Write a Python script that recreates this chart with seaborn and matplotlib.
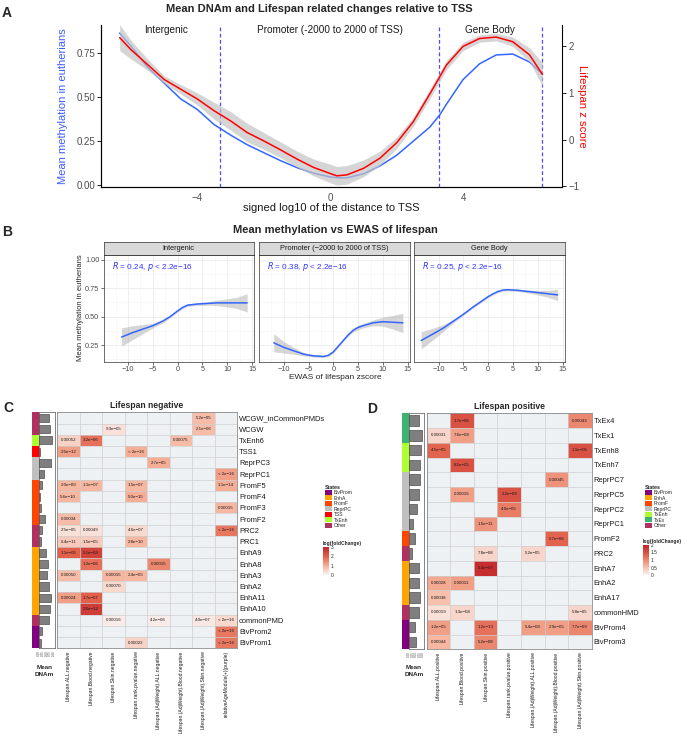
import numpy as np
import pandas as pd
import matplotlib
matplotlib.use("Agg")
import matplotlib.pyplot as plt
import seaborn as sns
from matplotlib.colors import ListedColormap, LinearSegmentedColormap
from matplotlib.patches import Patch

sns.set_style("white")
plt.rcParams["font.family"] = ["Liberation Sans", "DejaVu Sans"]

# ---------------- panel A: methylation / lifespan vs distance to TSS ----------------
tss_x = [-6.34, -6.0, -5.5, -5.0, -4.5, -4.0, -3.5, -3.0, -2.5, -2.0, -1.5, -1.0, -0.5,
         0.0, 0.2, 0.5, 1.0, 1.5, 2.0, 2.5, 3.0, 3.3, 3.5, 4.0, 4.5, 5.0, 5.5, 6.0, 6.39]
tss_meth = [0.864, 0.79, 0.67, 0.58, 0.49, 0.43, 0.345, 0.285, 0.23, 0.185, 0.14, 0.10, 0.068,
            0.047, 0.043, 0.042, 0.065, 0.11, 0.17, 0.25, 0.33, 0.40, 0.46, 0.60, 0.69, 0.74,
            0.745, 0.70, 0.63]
tss_z = [2.19, 1.93, 1.61, 1.29, 1.08, 0.87, 0.62, 0.40, 0.15, -0.03, -0.22, -0.42, -0.60,
         -0.73, -0.78, -0.76, -0.62, -0.40, -0.07, 0.38, 0.98, 1.35, 1.60, 2.00, 2.17, 2.20,
         2.10, 1.82, 1.40]
tss_z_se = [0.28, 0.20, 0.12, 0.08, 0.10, 0.13, 0.18, 0.20, 0.20, 0.18, 0.17, 0.17, 0.18,
            0.20, 0.20, 0.20, 0.18, 0.15, 0.12, 0.10, 0.10, 0.10, 0.10, 0.09, 0.08, 0.08, 0.10,
            0.15, 0.25]
region_bounds = [-3.33, 3.29, 6.39]
region_names = ["Intergenic", "Promoter (-2000 to 2000 of TSS)", "Gene Body"]
region_label_x = [-4.94, 0.0, 4.81]

# ---------------- panel B: methylation vs EWAS z score ----------------
facet_names = ["Intergenic", "Promoter (\u22122000 to 2000 of TSS)", "Gene Body"]
facet_r = ["0.24", "0.38", "0.25"]
inter_x = [-11.3, -9, -7, -5, -3, -1.5, 0, 1, 2, 4, 6, 8, 10, 12, 14]
inter_y = [0.32, 0.36, 0.39, 0.42, 0.46, 0.50, 0.55, 0.58, 0.60, 0.61, 0.615, 0.62, 0.62, 0.62, 0.62]
inter_se = [0.08, 0.06, 0.04, 0.02, 0.015, 0.01, 0.01, 0.01, 0.01, 0.012, 0.015, 0.025, 0.035, 0.05, 0.08]
prom_x = [-12, -10, -8, -6, -4, -2, -1, 0, 1, 2, 3, 4, 5, 6, 8, 10, 12, 14]
prom_y = [0.27, 0.23, 0.20, 0.17, 0.155, 0.15, 0.16, 0.19, 0.24, 0.29, 0.34, 0.38, 0.405, 0.42,
          0.445, 0.455, 0.45, 0.445]
prom_se = [0.08, 0.05, 0.03, 0.015, 0.01, 0.01, 0.01, 0.01, 0.01, 0.01, 0.012, 0.015, 0.02, 0.02,
           0.025, 0.04, 0.06, 0.085]
body_x = [-13.5, -11, -9, -7, -5, -3, -1, 0, 1, 2, 3, 4, 6, 8, 10, 12, 14]
body_y = [0.29, 0.35, 0.40, 0.46, 0.52, 0.585, 0.645, 0.675, 0.70, 0.72, 0.733, 0.735, 0.73,
          0.72, 0.71, 0.70, 0.69]
body_se = [0.075, 0.05, 0.03, 0.015, 0.01, 0.01, 0.01, 0.01, 0.01, 0.01, 0.01, 0.01, 0.01,
           0.012, 0.02, 0.03, 0.05]

# ---------------- panels C / D: enrichment heatmaps ----------------
state_names = ["BivProm", "EnhA", "PromF", "ReprPC", "TSS", "TxEnh", "TxEx", "Other"]
state_colors = ["#800080", "#FFA500", "#FF4500", "#C0C0C0", "#FF0000", "#ADFF2F", "#3CB371", "#B03060"]

neg_rows = ["WCGW_inCommonPMDs", "WCGW", "TxEnh6", "TSS1", "ReprPC3", "ReprPC1", "PromF5", "PromF4",
            "PromF3", "PromF2", "PRC2", "PRC1", "EnhA9", "EnhA8", "EnhA3", "EnhA2", "EnhA11",
            "EnhA10", "commonPMD", "BivProm2", "BivProm1"]
neg_states = ["Other", "Other", "TxEnh", "TSS", "ReprPC", "ReprPC", "PromF", "PromF", "PromF",
              "PromF", "Other", "Other", "EnhA", "EnhA", "EnhA", "EnhA", "EnhA", "EnhA", "Other",
              "BivProm", "BivProm"]
neg_dnam = [0.70, 0.76, 0.89, 0.08, 0.83, 0.30, 0.19, 0.08, 0.15, 0.38, 0.17, 0.15, 0.47, 0.57,
            0.53, 0.68, 0.83, 0.72, 0.64, 0.19, 0.15]
neg_cols = ["Lifespan.ALL.negative", "Lifespan.Blood.negative", "Lifespan.Skin.negative",
            "Lifespan.rank.pvalue.negative", "Lifespan.(AdjWeight).ALL.negative",
            "Lifespan.(AdjWeight).Blood.negative", "Lifespan.(AdjWeight).Skin.negative",
            "relativeAgeModule(+)(purple)"]
# (row, column index, log fold change, p value label)
neg_cells = [
    ("WCGW_inCommonPMDs", 6, 0.8, "5.2e\u221205"),
    ("WCGW", 2, 0.3, "9.3e\u221205"), ("WCGW", 6, 0.8, "2.1e\u221206"),
    ("TxEnh6", 0, 0.5, "0.00052"), ("TxEnh6", 1, 1.8, "3.2e\u221206"), ("TxEnh6", 5, 0.8, "0.00075"),
    ("TSS1", 0, 1.2, "2.5e\u221212"), ("TSS1", 3, 1.0, "< 2e\u221216"),
    ("ReprPC3", 4, 1.0, "2.7e\u221205"),
    ("ReprPC1", 7, 1.2, "< 2e\u221216"),
    ("PromF5", 0, 0.9, "2.0e\u221209"), ("PromF5", 1, 0.9, "1.1e\u221207"),
    ("PromF5", 3, 0.9, "1.5e\u221207"), ("PromF5", 7, 1.0, "1.1e\u221214"),
    ("PromF4", 0, 0.9, "5.6e\u221210"), ("PromF4", 3, 1.0, "5.0e\u221215"),
    ("PromF3", 7, 0.9, "0.00015"),
    ("PromF2", 0, 0.8, "0.00034"),
    ("PRC2", 0, 0.3, "2.5e\u221205"), ("PRC2", 1, 0.3, "0.00049"),
    ("PRC2", 3, 0.4, "4.6e\u221207"), ("PRC2", 7, 1.7, "< 2e\u221216"),
    ("PRC1", 0, 0.6, "6.4e\u221211"), ("PRC1", 1, 0.6, "1.5e\u221205"), ("PRC1", 3, 0.9, "2.8e\u221210"),
    ("EnhA9", 0, 2.0, "1.1e\u221205"), ("EnhA9", 1, 2.5, "5.1e\u221208"),
    ("EnhA8", 1, 1.8, "1.2e\u221206"), ("EnhA8", 4, 1.5, "0.00015"),
    ("EnhA3", 0, 0.8, "0.00050"), ("EnhA3", 2, 0.9, "0.00015"), ("EnhA3", 3, 0.9, "2.4e\u221205"),
    ("EnhA2", 2, 0.4, "0.00070"),
    ("EnhA11", 0, 1.2, "0.00024"), ("EnhA11", 1, 2.0, "1.7e\u221207"),
    ("EnhA10", 1, 2.6, "2.6e\u221212"),
    ("commonPMD", 2, 0.15, "0.00016"), ("commonPMD", 4, 0.15, "4.2e\u221206"),
    ("commonPMD", 6, 0.2, "4.0e\u221207"), ("commonPMD", 7, 0.4, "< 2e\u221216"),
    ("BivProm2", 7, 1.7, "< 2e\u221216"),
    ("BivProm1", 3, 0.5, "0.00022"), ("BivProm1", 7, 1.7, "< 2e\u221216"),
]

pos_rows = ["TxEx4", "TxEx1", "TxEnh8", "TxEnh7", "ReprPC7", "ReprPC5", "ReprPC2", "ReprPC1",
            "PromF2", "PRC2", "EnhA7", "EnhA2", "EnhA17", "commonHMD", "BivProm4", "BivProm3"]
pos_states = ["TxEx", "TxEx", "TxEnh", "TxEnh", "ReprPC", "ReprPC", "ReprPC", "ReprPC", "PromF",
              "Other", "EnhA", "EnhA", "EnhA", "Other", "BivProm", "BivProm"]
pos_dnam = [0.73, 0.95, 0.84, 0.80, 0.77, 0.73, 0.55, 0.27, 0.39, 0.18, 0.73, 0.68, 0.77, 0.73,
            0.43, 0.50]
pos_cols = ["Lifespan.ALL.positive", "Lifespan.Blood.positive", "Lifespan.Skin.positive",
            "Lifespan.rank.pvalue.positive", "Lifespan.(AdjWeight).ALL.positive",
            "Lifespan.(AdjWeight).Blood.positive", "Lifespan.(AdjWeight).Skin.positive"]
pos_cells = [
    ("TxEx4", 1, 1.5, "1.7e\u221206"), ("TxEx4", 6, 1.0, "0.00043"),
    ("TxEx1", 0, 0.3, "0.00031"), ("TxEx1", 1, 0.8, "7.6e\u221208"),
    ("TxEnh8", 0, 1.3, "4.5e\u221205"), ("TxEnh8", 6, 1.5, "1.1e\u221205"),
    ("TxEnh7", 1, 1.5, "8.1e\u221205"),
    ("ReprPC7", 5, 0.9, "0.00045"),
    ("ReprPC5", 1, 0.8, "0.00016"), ("ReprPC5", 3, 1.5, "2.2e\u221209"),
    ("ReprPC2", 3, 1.1, "4.0e\u221205"),
    ("ReprPC1", 2, 0.9, "1.5e\u221211"),
    ("PromF2", 5, 1.3, "5.7e\u221206"),
    ("PRC2", 2, 0.3, "7.8e\u221208"), ("PRC2", 4, 0.3, "5.2e\u221205"),
    ("EnhA7", 2, 1.9, "5.4e\u221207"),
    ("EnhA2", 0, 0.7, "0.00028"), ("EnhA2", 1, 0.8, "0.00011"),
    ("EnhA17", 0, 0.5, "0.00038"),
    ("commonHMD", 0, 0.2, "0.00019"), ("commonHMD", 1, 0.3, "1.3e\u221208"), ("commonHMD", 6, 0.3, "5.8e\u221205"),
    ("BivProm4", 0, 0.8, "1.2e\u221205"), ("BivProm4", 2, 1.2, "1.2e\u221213"),
    ("BivProm4", 4, 0.8, "5.4e\u221208"), ("BivProm4", 5, 0.8, "2.9e\u221205"), ("BivProm4", 6, 1.0, "7.7e\u221209"),
    ("BivProm3", 0, 0.6, "0.00044"), ("BivProm3", 2, 1.0, "5.2e\u221208"),
]

W, H = 685, 750
fig = plt.figure(figsize=(W / 100, H / 100), dpi=100)


def box(x0, y0, x1, y1):
    """pixel box (top-left origin) -> figure rect"""
    return [x0 / W, 1 - y1 / H, (x1 - x0) / W, (y1 - y0) / H]


BLUE = "#3366FF"
GRAY30 = "#4D4D4D"

# ======================= A =======================
ax_a = fig.add_axes(box(101.4, 25, 562, 187))
ax_r = ax_a.twinx()
sns.lineplot(x=tss_x, y=tss_meth, ax=ax_a, color=BLUE, lw=1.1)
z = np.array(tss_z)
se = np.array(tss_z_se)
ax_r.fill_between(tss_x, z - se, z + se, color="#C4C4C4", alpha=0.7, lw=0)
sns.lineplot(x=tss_x, y=tss_z, ax=ax_r, color="#FF0000", lw=1.1)
for b in region_bounds:
    ax_a.axvline(b, color="#4B4BFF", ls=(0, (3, 2)), lw=0.9)
for name, lx in zip(region_names, region_label_x):
    ax_a.text(lx, 0.879, name, ha="center", va="center", fontsize=7.2, color="#1A1A1A")
ax_a.set_xlim(-6.89, 6.98)
ax_a.set_ylim(-0.01, 0.91)
ax_r.set_ylim(-1.02, 2.46)
ax_a.set_xticks([-4, 0, 4])
ax_a.set_yticks([0, 0.25, 0.5, 0.75])
ax_a.set_yticklabels(["0.00", "0.25", "0.50", "0.75"])
ax_r.set_yticks([-1, 0, 1, 2])
for a in (ax_a, ax_r):
    a.tick_params(labelsize=7, labelcolor=GRAY30, length=3, width=0.6, color="black", pad=1.5)
    for s in a.spines.values():
        s.set_linewidth(0.8)
        s.set_color("black")
    a.spines["top"].set_visible(False)
    a.set_xlabel("")
ax_a.spines["right"].set_visible(False)
ax_a.set_ylabel("Mean methylation in eutherians", color="#3A5BFF", fontsize=8)
ax_a.yaxis.set_label_coords((68 - 101.4) / 460.6, 0.5)
ax_r.set_ylabel("Lifespan z score", color="#FF0000", fontsize=8.2, rotation=270, va="center")
ax_r.yaxis.set_label_coords((581.5 - 101.4) / 460.6, 0.5)
ax_a.set_xlabel("signed log10 of the distance to TSS", fontsize=8, color="#1A1A1A", va="center")
ax_a.xaxis.set_label_coords(0.5, -(208 - 187) / 162)
fig.text(319 / W, 1 - 8.5 / H, "Mean DNAm and Lifespan related changes relative to TSS",
         ha="center", va="center", fontsize=8, fontweight="bold")

# ======================= B =======================
fig.text(335 / W, 1 - 230 / H, "Mean methylation vs EWAS of lifespan",
         ha="center", va="center", fontsize=8, fontweight="bold")
facet_data = [(inter_x, inter_y, inter_se), (prom_x, prom_y, prom_se), (body_x, body_y, body_se)]
facet_left = [103.6, 259.3, 414.1]
for i, (x0, name, r, (fx, fy, fse)) in enumerate(zip(facet_left, facet_names, facet_r, facet_data)):
    ax = fig.add_axes(box(x0, 255, x0 + 150.5, 361.7))
    fy_a = np.array(fy)
    fse_a = np.array(fse)
    ax.fill_between(fx, fy_a - fse_a, fy_a + fse_a, color="#999999", alpha=0.4, lw=0)
    sns.lineplot(x=fx, y=fy, ax=ax, color=BLUE, lw=1.1)
    ax.set_xlim(-14.92, 15.4)
    ax.set_ylim(0.104, 1.04)
    ax.set_xticks([-10, -5, 0, 5, 10, 15])
    ax.set_xticks([-12.5, -7.5, -2.5, 2.5, 7.5, 12.5], minor=True)
    ax.set_yticks([0.25, 0.5, 0.75, 1.0])
    ax.set_yticks([0.125, 0.375, 0.625, 0.875], minor=True)
    ax.grid(True, which="major", color="#EBEBEB", lw=0.6)
    ax.grid(True, which="minor", color="#F3F3F3", lw=0.4)
    ax.set_axisbelow(True)
    ax.tick_params(which="major", labelsize=5.3, labelcolor=GRAY30, length=2, width=0.5,
                   color="#333333", pad=1, bottom=True, left=(i == 0))
    ax.tick_params(which="minor", length=0)
    ax.set_xticklabels(["\u221210", "\u22125", "0", "5", "10", "15"])
    if i == 0:
        ax.set_yticklabels(["0.25", "0.50", "0.75", "1.00"])
    else:
        ax.set_yticklabels([])
    for s in ax.spines.values():
        s.set_linewidth(0.5)
        s.set_color("#333333")
    ax.text(-13.3, 0.935, f"$R$ = {r}, $p$ < 2.2e\u221216", color="#3333FF", fontsize=5.9,
            ha="left", va="center")
    sax = fig.add_axes(box(x0, 241.7, x0 + 150.5, 255))
    sax.set_facecolor("#D9D9D9")
    sax.set_xticks([])
    sax.set_yticks([])
    for s in sax.spines.values():
        s.set_linewidth(0.5)
        s.set_color("#333333")
    sax.text(0.5, 0.5, name, ha="center", va="center", fontsize=5.3, color="#1A1A1A",
             transform=sax.transAxes)
fig.text(81 / W, 1 - 308 / H, "Mean methylation in eutherians", rotation=90, ha="center",
         va="center", fontsize=5.5)
fig.text(335 / W, 1 - 377 / H, "EWAS of lifespan zscore", ha="center", va="center", fontsize=6)

# ======================= C / D =======================
fc_cmap = LinearSegmentedColormap.from_list(
    "fc", ["#FAF5F4", "#F5AE95", "#E2604A", "#C0252A"])
state_cmap = ListedColormap(state_colors)


def enrichment_panel(px, rows, states, dnam, cols, cells, vmax, cticks, title,
                     leg_x, leg_states, cbar_box):
    hx0, hy0, hx1, hy1, sx0, bx0, bx1 = px
    n = len(rows)
    # colour strip of chromatin states
    sax = fig.add_axes(box(sx0, hy0, bx0, hy1))
    codes = pd.DataFrame({"s": [state_names.index(s) for s in states]}, index=rows)
    sns.heatmap(codes, ax=sax, cmap=state_cmap, vmin=-0.5, vmax=len(state_names) - 0.5,
                cbar=False, xticklabels=False, yticklabels=False)
    # mean DNAm bars
    bax = fig.add_axes(box(bx0, hy0, bx1, hy1))
    sns.barplot(x=dnam, y=rows, orient="h", ax=bax, color="#7F7F7F", edgecolor="#333333",
                linewidth=0.4, width=0.72)
    bax.set_xlim(0, 1.08)
    bax.set_ylim(n - 0.5, -0.5)
    bax.set_yticks([])
    bax.set_ylabel("")
    bax.set_xticks([0, 0.25, 0.5, 0.75, 1.0])
    bax.set_xticklabels(["0.00", "0.25", "0.50", "0.75", "1.00"], rotation=90)
    bax.tick_params(axis="x", labelsize=2.2, length=1, width=0.3, pad=0.5, labelcolor=GRAY30)
    for s in bax.spines.values():
        s.set_linewidth(0.5)
        s.set_color("#555555")
    fig.text((bx0 + bx1) / 2 / W - 0.004, 1 - 671 / H, "Mean\nDNAm", ha="center", va="center",
             fontsize=4.6, fontweight="bold", linespacing=1.3)
    # heatmap
    fc = pd.DataFrame(np.nan, index=rows, columns=range(len(cols)))
    lab = pd.DataFrame("", index=rows, columns=range(len(cols)))
    for r, c, v, p in cells:
        fc.loc[r, c] = v
        lab.loc[r, c] = p
    hax = fig.add_axes(box(hx0, hy0, hx1, hy1))
    hax.set_facecolor("#EDF1F4")
    cax = fig.add_axes(box(*cbar_box))
    sns.heatmap(fc, ax=hax, cmap=fc_cmap, vmin=0, vmax=vmax, mask=fc.isna(),
                annot=lab.values, fmt="", annot_kws={"fontsize": 3.2, "color": "#1A1A1A"},
                cbar_ax=cax, cbar_kws={"ticks": cticks}, xticklabels=cols, yticklabels=rows)
    for k in range(n + 1):
        hax.axhline(k, color="#CFCFCF", lw=0.5)
    for k in range(len(cols) + 1):
        hax.axvline(k, color="#CFCFCF", lw=0.5)
    for s in hax.spines.values():
        s.set_visible(True)
        s.set_linewidth(0.6)
        s.set_color("#8C8C8C")
    hax.yaxis.tick_right()
    hax.set_yticklabels(rows, rotation=0, fontsize=5.4, color="#1A1A1A")
    hax.set_xticklabels(cols, rotation=90, fontsize=3.6, color="#1A1A1A")
    hax.tick_params(length=0, pad=1.5)
    hax.set_title(title, fontsize=6.2, fontweight="bold", pad=3)
    # colour bar
    cax.tick_params(labelsize=3.5, length=0, pad=1.5)
    cax.set_yticklabels([f"{t:g}" for t in cticks])
    fig.text(cbar_box[0] / W, 1 - (cbar_box[1] - 4) / H, "log(foldChange)", fontsize=3.6,
             fontweight="bold", ha="left", va="center")
    # state legend
    handles = [Patch(facecolor=state_colors[state_names.index(s)], edgecolor="none", label=s)
               for s in leg_states]
    leg = fig.legend(handles=handles, title="States", loc="upper left",
                     bbox_to_anchor=(leg_x / W, 1 - 482 / H), fontsize=3.6, title_fontsize=3.8,
                     frameon=False, handlelength=1.4, handleheight=1.2, labelspacing=0.05,
                     handletextpad=0.4, borderpad=0, alignment="left")
    leg.get_title().set_fontweight("bold")


enrichment_panel((57, 412.3, 237, 648.3, 32, 39.3, 55), neg_rows, neg_states, neg_dnam,
                 neg_cols, neg_cells, 3, [0, 1, 2, 3], "Lifespan negative",
                 322, ["BivProm", "EnhA", "PromF", "ReprPC", "TSS", "TxEnh", "Other"],
                 (323, 547, 329, 575))
enrichment_panel((426.7, 413.3, 591.7, 649.3, 401.7, 409.3, 424), pos_rows, pos_states, pos_dnam,
                 pos_cols, pos_cells, 2, [0, 0.5, 1, 1.5, 2], "Lifespan positive",
                 642, ["BivProm", "EnhA", "PromF", "ReprPC", "TxEnh", "TxEx", "Other"],
                 (643, 545, 649, 575))

for letter, lx, ly in [("A", 7, 13), ("B", 7, 232), ("C", 8, 408), ("D", 372, 409)]:
    fig.text(lx / W, 1 - ly / H, letter, fontsize=10, fontweight="bold", ha="center", va="center")

fig.savefig("out.png", dpi=100)
